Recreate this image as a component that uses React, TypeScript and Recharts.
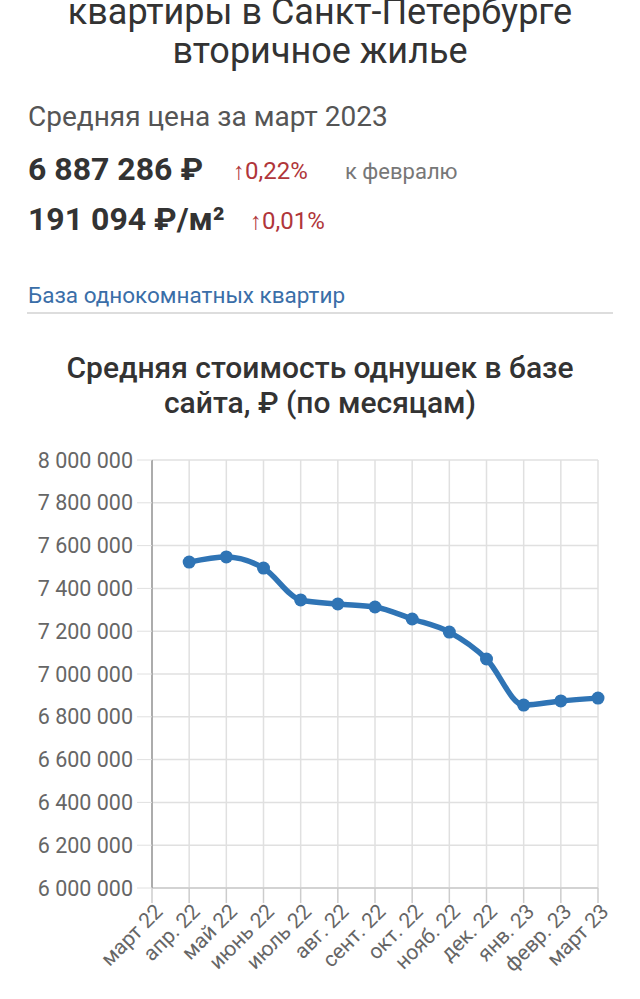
import React from 'react';
import { LineChart, Line, XAxis, YAxis, CartesianGrid } from 'recharts';

const months = ['март 22', 'апр. 22', 'май 22', 'июнь 22', 'июль 22', 'авг. 22', 'сент. 22', 'окт. 22', 'нояб. 22', 'дек. 22', 'янв. 23', 'февр. 23', 'март 23'];
const prices = [null, 7523000, 7547000, 7495000, 7346000, 7327000, 7313000, 7257000, 7196000, 7070000, 6855000, 6874000, 6887286];
const yTicks = [6000000, 6200000, 6400000, 6600000, 6800000, 7000000, 7200000, 7400000, 7600000, 7800000, 8000000];

const data = months.map((m, i) => ({ month: m, price: prices[i] }));

const FONT = 'Roboto, "Noto Sans", sans-serif';
const BLUE = '#2f74b5';

const fmt = (v: number) => String(v).replace(/\B(?=(\d{3})+(?!\d))/g, ' ');

function MonthTick(props: any) {
  const { x, y, payload } = props;
  return (
    <text
      x={x + 8}
      y={y + 4}
      transform={`rotate(-45, ${x + 8}, ${y + 4})`}
      textAnchor="end"
      dominantBaseline="middle"
      fontSize={21}
      fontFamily={FONT}
      fill="#666"
    >
      {payload.value}
    </text>
  );
}

const abs = (top: number, left: number | null, fs: number, extra: React.CSSProperties = {}): React.CSSProperties => ({
  position: 'absolute',
  top,
  left: left === null ? 0 : left,
  width: left === null ? 640 : undefined,
  textAlign: left === null ? 'center' : 'left',
  fontSize: fs,
  lineHeight: `${fs}px`,
  whiteSpace: 'nowrap',
  ...extra,
});

export default function App() {
  return (
    <div style={{ position: 'relative', width: 640, height: 999, overflow: 'hidden', background: '#fff', fontFamily: FONT, color: '#333' }}>
      <style>{'body{margin:0}'}</style>
      <div style={abs(-6, null, 36)}>квартиры в Санкт-Петербурге</div>
      <div style={abs(33, null, 36)}>вторичное жилье</div>

      <div style={abs(103, 28, 28, { color: '#555' })}>Средняя цена за март 2023</div>
      <div style={abs(153, 28, 32, { fontWeight: 700 })}>6 887 286 ₽</div>
      <div style={abs(159, 233, 24, { color: '#b0363a' })}>↑0,22%</div>
      <div style={abs(161, 345, 22, { color: '#777' })}>к февралю</div>
      <div style={abs(203, 28, 32, { fontWeight: 700 })}>191 094 ₽/м²</div>
      <div style={abs(209, 250, 24, { color: '#b0363a' })}>↑0,01%</div>

      <div style={abs(284, 28, 22.5, { color: '#3a6ea8' })}>База однокомнатных квартир</div>
      <div style={{ position: 'absolute', top: 312, left: 27, width: 586, height: 2, background: '#ddd' }} />

      <div style={abs(353, null, 30, { fontWeight: 500 })}>Средняя стоимость однушек в базе</div>
      <div style={abs(388, null, 30, { fontWeight: 500 })}>сайта, ₽ (по месяцам)</div>

      <div style={{ position: 'absolute', top: 440, left: 0 }}>
        <LineChart width={640} height={559} data={data} margin={{ top: 20, right: 42, bottom: 11, left: 0 }}>
          <CartesianGrid stroke="#e0e0e0" strokeWidth={1.5} />
          <XAxis
            dataKey="month"
            interval={0}
            height={100}
            tickSize={15}
            tickMargin={2}
            stroke="#ccc"
            strokeWidth={1.5}
            tick={<MonthTick />}
          />
          <YAxis
            width={152}
            domain={[6000000, 8000000]}
            ticks={yTicks}
            tickFormatter={fmt}
            tickSize={15}
            tickMargin={4}
            tickLine={{ stroke: '#e0e0e0' }}
            axisLine={{ stroke: '#999', strokeWidth: 1.5 }}
            tick={{ fill: '#666', fontSize: 21.5, fontFamily: FONT }}
          />
          <Line
            type="monotone"
            dataKey="price"
            stroke={BLUE}
            strokeWidth={5.5}
            dot={{ r: 6.5, fill: BLUE, stroke: BLUE, strokeWidth: 0 }}
            isAnimationActive={false}
          />
        </LineChart>
      </div>
    </div>
  );
}
